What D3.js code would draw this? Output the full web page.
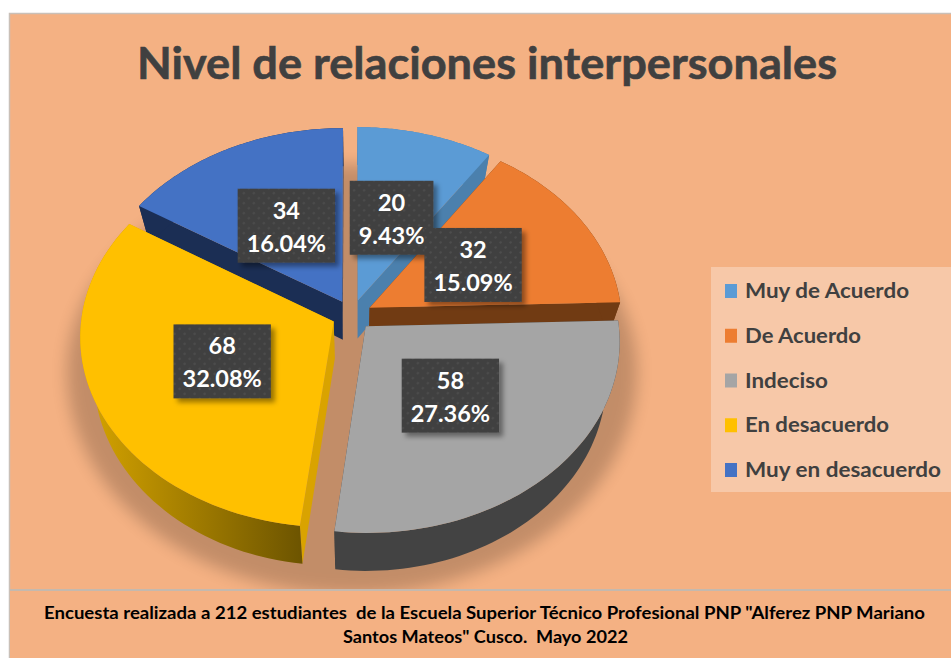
<!DOCTYPE html>
<meta charset="utf-8">
<style>
  body { margin: 0; background: #fff; }
  text { font-family: Lato, "Open Sans", sans-serif; font-weight: 700; }
</style>
<script src="https://d3js.org/d3.v7.min.js"></script>
<svg id="chart" width="951" height="658"></svg>
<script>

  // The data
  var categories = ["Muy de Acuerdo", "De Acuerdo", "Indeciso", "En desacuerdo", "Muy en desacuerdo"];
  var counts = [20, 32, 58, 68, 34];
  var percents = ["9.43%", "15.09%", "27.36%", "32.08%", "16.04%"];
  var topColors = ["#5b9bd5", "#ed7d31", "#a5a5a5", "#ffc000", "#4472c4"];
  var sideColors = ["#4b80ad", "#713b13", "#434343", "url(#yellowRim)", "#1b2e54"];
  var cutColors = ["#4b80ad", "#713b13", "#434343", "#d9a300", "#1b2e54"];
  var titleText = "Nivel de relaciones interpersonales";
  var footerLines = ["Encuesta realizada a 212 estudiantes  de la Escuela Superior Técnico Profesional PNP \"Alferez PNP Mariano",
                     "Santos Mateos\" Cusco.  Mayo 2022"];

  var svg = d3.select("#chart");

  // Fake 3d: a disc seen in perspective, slices pushed out from the middle
  var cx = 352, cy = 315, rx = 252, ry = 189, persp = 13, depth = 38, shrink = 0.95, explode = 0.08, labelR = 0.48;

  function project(x, y) {
    var s = persp / (persp - y);
    return [cx + rx * x * s, cy + ry * y * s];
  }

  function rimPoint(a, r, mid) {
    return project(r * Math.sin(a) + explode * Math.sin(mid), -r * Math.cos(a) - explode * Math.cos(mid));
  }

  // the lower disc is a bit smaller, the walls converge going down
  function down(p) { return [cx + (p[0] - cx) * shrink, p[1] + depth]; }

  var line = d3.line();
  var defs = svg.append("defs");

  var rimGrad = defs.append("linearGradient").attr("id", "yellowRim")
          .attr("gradientUnits", "userSpaceOnUse")
          .attr("x1", 85).attr("x2", 305).attr("y1", 0).attr("y2", 0);
  rimGrad.append("stop").attr("offset", 0).attr("stop-color", "#d6a400");
  rimGrad.append("stop").attr("offset", 1).attr("stop-color", "#6b5300");

  defs.append("filter").attr("id", "pieShadow")
          .attr("x", "-20%").attr("y", "-20%").attr("width", "140%").attr("height", "140%")
          .append("feGaussianBlur").attr("stdDeviation", 8);

  var boxShadow = defs.append("filter").attr("id", "boxShadow")
          .attr("x", "-20%").attr("y", "-20%").attr("width", "150%").attr("height", "150%");
  boxShadow.append("feDropShadow").attr("dx", 4).attr("dy", 4).attr("stdDeviation", 2.5)
          .attr("flood-color", "#000").attr("flood-opacity", 0.4);

  var dots = defs.append("pattern").attr("id", "dots")
          .attr("patternUnits", "userSpaceOnUse").attr("width", 10).attr("height", 10);
  dots.append("rect").attr("width", 10).attr("height", 10).attr("fill", "#3f3f3f");
  dots.append("circle").attr("cx", 2.5).attr("cy", 2.5).attr("r", 1.2).attr("fill", "#4f4f4f");
  dots.append("circle").attr("cx", 7.5).attr("cy", 7.5).attr("r", 1.2).attr("fill", "#4f4f4f");

  // Background and frame
  svg.append("rect").attr("x", 9.5).attr("y", 13.5).attr("width", 943).attr("height", 646)
          .attr("fill", "#f4b183").attr("stroke", "#c9c0b8").attr("stroke-width", 1.5);

  // Soft shadow under the pie
  var shadowPts = d3.range(0, 361, 3).map(function (deg) {
    var a = deg * Math.PI / 180, c = Math.cos(a);
    return [352 + 285 * Math.sin(a), 372 - (c > 0 ? 207 : 222) * c];
  });
  svg.append("path").attr("d", line(shadowPts) + "Z")
          .attr("fill", "#000").attr("opacity", 0.2).attr("filter", "url(#pieShadow)");

  // Footer over the shadow
  svg.append("rect").attr("x", 10).attr("y", 590).attr("width", 941).attr("height", 68).attr("fill", "#f4b183");
  svg.append("rect").attr("x", 10).attr("y", 589).attr("width", 941).attr("height", 2).attr("fill", "#c4b9ae");

  // Slices, back to front
  var pie = d3.pie().sort(null).value(function (d) { return d; });
  var slices = pie(counts);
  slices.forEach(function (d) { d.mid = (d.startAngle + d.endAngle) / 2; });

  var order = slices.slice().sort(function (a, b) { return Math.cos(b.mid) - Math.cos(a.mid); });

  order.forEach(function (d) {
    var i = d.index;
    var arcPts = d3.range(0, 61).map(function (k) {
      return rimPoint(d.startAngle + (d.endAngle - d.startAngle) * k / 60, 1, d.mid);
    });
    var apex = rimPoint(0, 0, d.mid);
    var g = svg.append("g");

    // the two cut faces
    [arcPts[0], arcPts[arcPts.length - 1]].forEach(function (p) {
      g.append("path").attr("d", line([apex, p, down(p), down(apex)]) + "Z").attr("fill", cutColors[i]);
    });
    // the outer wall
    g.append("path").attr("d", line(arcPts.concat(arcPts.slice().reverse().map(down))) + "Z").attr("fill", sideColors[i]);
    // the top
    g.append("path").attr("d", line([apex].concat(arcPts)) + "Z").attr("fill", topColors[i]);
  });

  // Data labels
  var boxH = 74;
  slices.forEach(function (d) {
    var i = d.index;
    var c = rimPoint(d.mid, labelR, d.mid);
    var g = svg.append("g").attr("transform", "translate(" + c[0] + "," + c[1] + ")");
    var box = g.append("rect").attr("fill", "url(#dots)").attr("filter", "url(#boxShadow)");
    g.append("text").attr("text-anchor", "middle").attr("y", -7).attr("font-size", 23.5).attr("fill", "#fff").text(counts[i]);
    var pct = g.append("text").attr("text-anchor", "middle").attr("y", 26).attr("font-size", 23.5).attr("fill", "#fff").text(percents[i]);
    var w = pct.node().getComputedTextLength() + 18;
    box.attr("x", -w / 2).attr("y", -boxH / 2).attr("width", w).attr("height", boxH);
  });

  // Title
  svg.append("text").attr("x", 487).attr("y", 79).attr("text-anchor", "middle")
          .attr("font-size", 43).attr("fill", "#404040").attr("stroke", "#404040").attr("stroke-width", 0.6)
          .attr("textLength", 700).attr("lengthAdjust", "spacingAndGlyphs").text(titleText);

  // Legend
  var legendY = d3.scalePoint().domain(categories).range([291, 470]);
  var legendW = [164, 116, 83, 144, 196];
  svg.append("rect").attr("x", 711).attr("y", 267).attr("width", 240).attr("height", 225)
          .attr("fill", "#fff").attr("fill-opacity", 0.3);
  var legend = svg.selectAll(".legend").data(categories).enter().append("g").attr("class", "legend");
  legend.append("rect").attr("x", 725).attr("width", 12).attr("height", 14)
          .attr("y", function (d) { return legendY(d) - 7; })
          .attr("fill", function (d, i) { return topColors[i]; });
  legend.append("text").attr("x", 745).attr("font-size", 20.5).attr("fill", "#404040")
          .attr("y", function (d) { return legendY(d) + 7; })
          .attr("textLength", function (d, i) { return legendW[i]; })
          .attr("lengthAdjust", "spacingAndGlyphs")
          .text(function (d) { return d; });

  // Footer note
  svg.append("text").attr("x", 484.5).attr("y", 619).attr("text-anchor", "middle").attr("xml:space", "preserve")
          .attr("font-size", 16.5).attr("fill", "#000")
          .attr("textLength", 881).attr("lengthAdjust", "spacingAndGlyphs").text(footerLines[0]);
  svg.append("text").attr("x", 485.5).attr("y", 643).attr("text-anchor", "middle").attr("xml:space", "preserve")
          .attr("font-size", 16.5).attr("fill", "#000")
          .attr("textLength", 285).attr("lengthAdjust", "spacingAndGlyphs").text(footerLines[1]);

</script>
